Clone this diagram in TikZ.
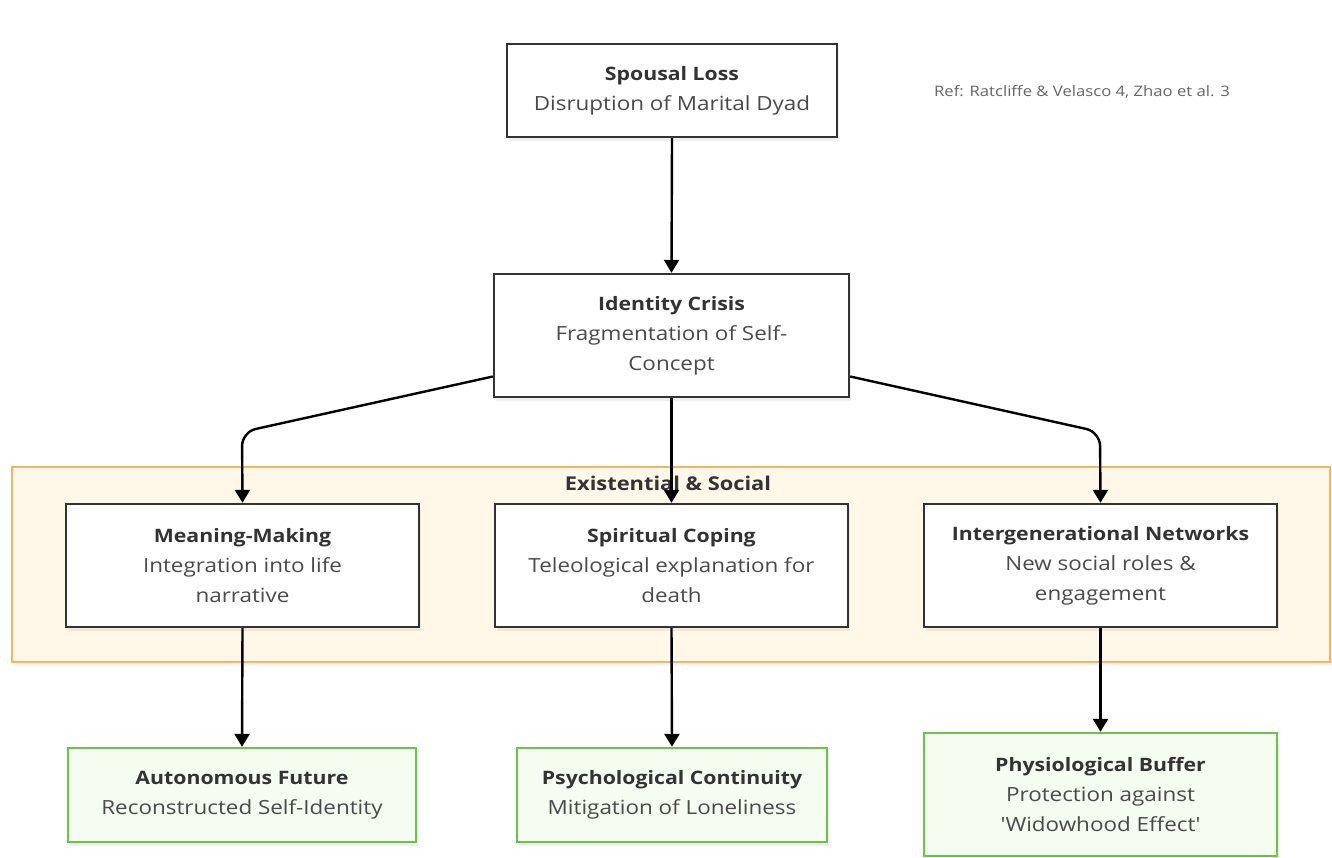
\documentclass[tikz,border=0pt]{standalone}
\usepackage{fontspec}
\setmainfont[FakeStretch=1.15]{Open Sans}
\newfontfamily\qfont[FakeStretch=1.15,Ligatures=TeXOff]{Open Sans}
\usetikzlibrary{arrows.meta,shadows,positioning}
\definecolor{boxline}{HTML}{333333}
\definecolor{titlecol}{HTML}{333333}
\definecolor{subcol}{HTML}{4A4A4A}
\definecolor{clfill}{HTML}{FFF8E8}
\definecolor{clline}{HTML}{F2B665}
\definecolor{gline}{HTML}{6DC24B}
\definecolor{gfill}{HTML}{F5FCF0}
\definecolor{refcol}{HTML}{666666}
\tikzset{
  basebox/.style={rectangle, line width=2.4pt, align=center, inner sep=0pt,
    font=\fontsize{19.5}{30}\selectfont, text=subcol,
    drop shadow={shadow xshift=2pt, shadow yshift=-4pt, opacity=0.12}},
  whitebox/.style={basebox, draw=boxline, fill=white},
  greenbox/.style={basebox, draw=gline, fill=gfill},
  conn/.style={line width=2.4pt, draw=black, -{Triangle[width=15pt,length=13pt]}},
  cluster/.style={rectangle, draw=clline, fill=clfill, line width=2.2pt,
    drop shadow={shadow xshift=2pt, shadow yshift=-4pt, opacity=0.08}}
}
\newcommand{\ttl}[1]{{\fontsize{18.5}{30}\selectfont\bfseries\color{titlecol}#1}}
\newcommand{\sq}{{\qfont'}}
\begin{document}
\begin{tikzpicture}[x=1pt,y=-1pt]
\useasboundingbox[fill=white] (0,0) rectangle (1332,858);
% cluster
\node[cluster, minimum width=1318pt, minimum height=195pt] (cl) at (671,564.5) {};
\node[font=\fontsize{19}{24}\selectfont\bfseries, text=titlecol] (cllabel) at (668,483) {Existential \& Social};
% nodes
\node[whitebox, minimum width=330pt, minimum height=93pt] (sl) at (672,90.5)
  {\ttl{Spousal Loss}\\Disruption of Marital Dyad};
\node[whitebox, minimum width=355pt, minimum height=123pt] (ic) at (671.5,335.5)
  {\ttl{Identity Crisis}\\Fragmentation of Self-\\Concept};
\node[whitebox, minimum width=353pt, minimum height=123pt] (mm) at (242.5,565.5)
  {\ttl{Meaning-Making}\\Integration into life\\narrative};
\node[whitebox, minimum width=353pt, minimum height=123pt] (sc) at (671.5,565.5)
  {\ttl{Spiritual Coping}\\Teleological explanation for\\death};
\node[whitebox, minimum width=353pt, minimum height=123pt] (ig) at (1100.5,565.5)
  {\ttl{Intergenerational Networks}\\New social roles \&\\engagement};
\node[greenbox, minimum width=348pt, minimum height=94pt] (af) at (242,795)
  {\ttl{Autonomous Future}\\Reconstructed Self-Identity};
\node[greenbox, minimum width=310pt, minimum height=94pt] (pc) at (672,795)
  {\ttl{Psychological Continuity}\\Mitigation of Loneliness};
\node[greenbox, minimum width=353pt, minimum height=123pt] (pb) at (1100.5,794.5)
  {\ttl{Physiological Buffer}\\Protection against\\\sq Widowhood Effect\sq};
\node[font=\fontsize{14.5}{17}\selectfont, text=refcol] (ref) at (1082,92)
  {Ref: Ratcliffe \& Velasco 4, Zhao et al. 3};
% connectors
\coordinate (lc) at (242,432);
\coordinate (rc) at (1100,432);
\draw[conn] (sl.south) -- (ic.north);
\draw[conn, rounded corners=14pt] ([yshift=-41pt]ic.west) -- (lc) -- (mm.north);
\draw[conn] (ic.south) -- (sc.north);
\draw[conn, rounded corners=14pt] ([yshift=-41pt]ic.east) -- (rc) -- (ig.north);
\draw[conn] (mm.south) -- (af.north);
\draw[conn] (sc.south) -- (pc.north);
\draw[conn] (ig.south) -- (pb.north);
\end{tikzpicture}
\end{document}
